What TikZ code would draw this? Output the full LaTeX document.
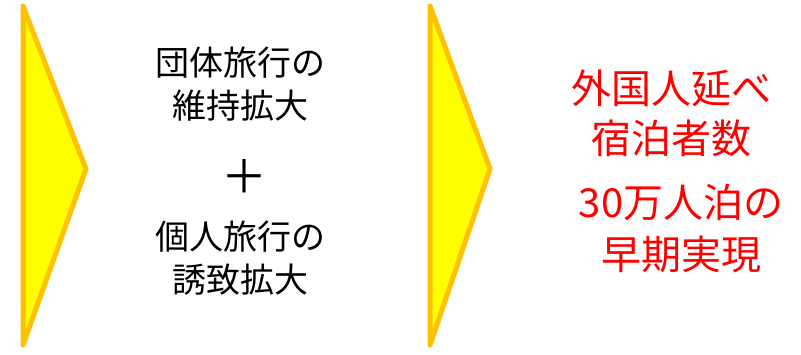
\documentclass[tikz,border=0pt]{standalone}
\usepackage{fontspec}
\setmainfont{Noto Sans CJK JP}
\definecolor{chevfill}{HTML}{FFFF00}
\definecolor{chevline}{HTML}{FFC000}
\definecolor{redtxt}{HTML}{FF0000}
\begin{document}
\begin{tikzpicture}[x=1pt,y=-1pt,
  chevron/.style={fill=chevfill,draw=chevline,line width=5pt,line join=round},
  blacktxt/.style={align=center,inner sep=0pt,font=\fontsize{34}{43}\selectfont},
  redtext/.style={align=center,inner sep=0pt,text=redtxt,font=\fontsize{40}{50}\selectfont}]
\useasboundingbox (0,0) rectangle (801,354);
\draw[chevron] (23,6) -- (86,169) -- (23,345) -- cycle;
\draw[chevron] (430,6) -- (490,169) -- (430,345) -- cycle;
\node[blacktxt] (group) at (240,84) {団体旅行の\\維持拡大};
\node[blacktxt,font=\fontsize{46}{46}\selectfont] (plus) at (244,176) {＋};
\node[blacktxt] (indiv) at (240,258) {個人旅行の\\誘致拡大};
\node[redtext] (guests) at (671,113) {外国人延べ\\宿泊者数};
\node[redtext,font=\fontsize{40}{52}\selectfont] (goal) at (681,229) {30万人泊の\\早期実現};
\end{tikzpicture}
\end{document}
